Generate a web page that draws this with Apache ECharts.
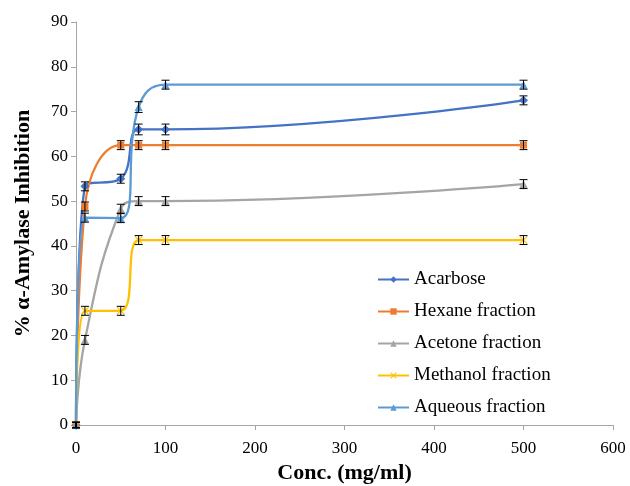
<!DOCTYPE html>
<html><head><meta charset="utf-8">
<script src="https://cdn.jsdelivr.net/npm/echarts@6/dist/echarts.min.js"></script>
<style>html,body{margin:0;padding:0;background:#fff}#c{width:630px;height:486px}</style>
</head><body><div id="c"></div>
<script>
const conc = [0, 10, 50, 70, 100, 500];
const seriesNames = ['Acarbose', 'Hexane fraction', 'Acetone fraction', 'Methanol fraction', 'Aqueous fraction'];
const acarbose = [0, 53.3, 55, 66, 66, 72.5];
const hexane = [0, 48.8, 62.5, 62.5, 62.5, 62.5];
const acetone = [0, 19, 48.3, 50, 50, 53.8];
const methanol = [0, 25.5, 25.5, 41.3, 41.3, 41.3];
const aqueous = [0, 46.3, 46.2, 71, 76, 76];
const errAcarbose = [0.6, 1, 1, 1.2, 1.2, 1];
const errHexane = [0.6, 1, 1, 1, 1, 1];
const errAcetone = [0.6, 1, 1, 1, 1, 1];
const errMethanol = [0.6, 1, 1, 1, 1, 1];
const errAqueous = [0.6, 1, 1, 1.2, 1, 1];
const xTicks = [0, 100, 200, 300, 400, 500, 600];
const yTicks = [0, 10, 20, 30, 40, 50, 60, 70, 80, 90];

const colors = ['#4472C4', '#ED7D31', '#A5A5A5', '#FFC000', '#5B9BD5'];
const symbols = ['diamond', 'rect', 'triangle',
  'path://M0,1L1,0L5,4L9,0L10,1L6,5L10,9L9,10L5,6L1,10L0,9L4,5Z', 'triangle'];
const symSizes = [9, 7, 8, 8, 8];
const values = [acarbose, hexane, acetone, methanol, aqueous];
const errs = [errAcarbose, errHexane, errAcetone, errMethanol, errAqueous];

const font = '"Liberation Serif", "Times New Roman", serif';
const series = [];
values.forEach((v, i) => {
  series.push({
    name: seriesNames[i], type: 'line', smooth: 0.45,
    data: conc.map((x, j) => [x, v[j]]),
    symbol: symbols[i], symbolSize: symSizes[i],
    lineStyle: { color: colors[i], width: 2.3 },
    itemStyle: { color: colors[i] },
    z: 3
  });
});
values.forEach((v, i) => {
  series.push({
    type: 'custom', name: 'err' + i, silent: true, z: 4,
    data: conc.map((x, j) => [x, v[j] - errs[i][j], v[j] + errs[i][j]]),
    renderItem: function (params, api) {
      const lo = api.coord([api.value(0), api.value(1)]);
      const hi = api.coord([api.value(0), api.value(2)]);
      const w = 4;
      const st = { stroke: '#000', lineWidth: 1 };
      return { type: 'group', children: [
        { type: 'line', shape: { x1: lo[0], y1: lo[1], x2: hi[0], y2: hi[1] }, style: st },
        { type: 'line', shape: { x1: lo[0] - w, y1: lo[1], x2: lo[0] + w, y2: lo[1] }, style: st },
        { type: 'line', shape: { x1: hi[0] - w, y1: hi[1], x2: hi[0] + w, y2: hi[1] }, style: st }
      ]};
    }
  });
});

const chart = echarts.init(document.getElementById('c'));
chart.setOption({
  animation: false,
  backgroundColor: '#fff',
  textStyle: { fontFamily: font },
  grid: { left: 76, right: 17, top: 22, bottom: 61, containLabel: false, outerBoundsMode: 'none' },
  legend: {
    data: seriesNames, orient: 'vertical', left: 377, top: 270, padding: 0,
    itemWidth: 31, itemHeight: 8, itemGap: 13,
    textStyle: { fontFamily: font, fontSize: 19, color: '#000' }
  },
  xAxis: {
    type: 'value', min: 0, max: 600, interval: 100,
    name: 'Conc. (mg/ml)', nameLocation: 'middle', nameGap: 35,
    nameTextStyle: { fontFamily: font, fontSize: 22, fontWeight: 'bold', color: '#000' },
    axisLine: { show: true, lineStyle: { color: '#A6A6A6', width: 1 } },
    axisTick: { show: true, length: 5, lineStyle: { color: '#A6A6A6' } },
    axisLabel: { fontFamily: font, fontSize: 17, color: '#000', margin: 15,
      formatter: v => xTicks.includes(v) ? String(v) : '' },
    splitLine: { show: false }
  },
  yAxis: {
    type: 'value', min: 0, max: 90, interval: 10,
    name: '% α-Amylase Inhibition', nameLocation: 'middle', nameGap: 42, nameRotate: 90,
    nameTextStyle: { fontFamily: font, fontSize: 22, fontWeight: 'bold', color: '#000' },
    axisLine: { show: true, lineStyle: { color: '#A6A6A6', width: 1 } },
    axisTick: { show: true, length: 5, lineStyle: { color: '#A6A6A6' } },
    axisLabel: { fontFamily: font, fontSize: 17, color: '#000', margin: 8,
      formatter: v => yTicks.includes(v) ? String(v) : '' },
    splitLine: { show: false }
  },
  series: series
});
</script>
</body></html>
